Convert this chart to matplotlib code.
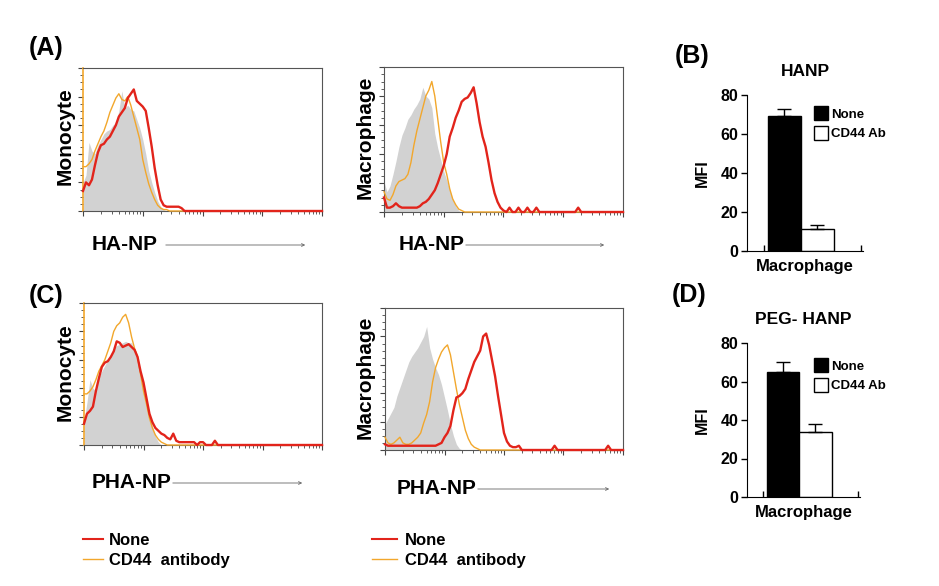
import numpy as np
import matplotlib.pyplot as plt
from matplotlib.lines import Line2D
from matplotlib.patches import Patch, FancyArrowPatch
from matplotlib.ticker import MultipleLocator, LogLocator, NullFormatter

plt.rcParams['font.family'] = ['Liberation Sans', 'DejaVu Sans']
plt.rcParams['font.weight'] = 'bold'
plt.rcParams['axes.labelweight'] = 'bold'
plt.rcParams['axes.titleweight'] = 'bold'

RED = '#e2241b'
ORANGE = '#f2a72c'
GREY = '#d2d2d2'

# histogram counts (% of max), one value every 0.05 decade starting at 10^0
amono_grey = [20, 25, 48, 42, 40, 46, 50, 54, 56, 57, 60, 62, 70, 84, 72, 74, 71, 70, 64, 58,
              50, 40, 28, 20, 13, 7, 3, 1]
amono_orange = [31, 31, 33, 36, 42, 47, 52, 56, 62, 69, 74, 79, 82, 78, 77, 80, 74, 66, 58, 50,
                36, 27, 19, 13, 8, 4, 2, 1, 1]
amono_red = [14, 20, 18, 22, 32, 41, 46, 47, 50, 52, 56, 60, 66, 69, 72, 79, 82, 85, 77, 75,
             73, 70, 58, 45, 30, 18, 8, 4, 3, 3, 3, 3, 3, 2]

amac_grey = [21, 14, 18, 26, 35, 45, 53, 58, 64, 67, 71, 74, 78, 86, 80, 78, 72, 54, 44, 36,
             28, 22, 15, 9, 4, 1]
amac_orange = [14, 9, 8, 12, 18, 21, 22, 23, 26, 34, 46, 56, 64, 72, 80, 84, 90, 80, 64, 48,
               34, 26, 16, 9, 5, 2, 1]
amac_red = [10, 3, 3, 4, 6, 4, 3, 3, 3, 3, 3, 3, 4, 6, 7, 9, 12, 15, 20, 26,
            32, 40, 52, 58, 65, 70, 76, 78, 79, 82, 86, 75, 62, 52, 45, 34, 22, 13, 7, 3,
            1, 0, 3, 0, 0, 3, 0, 0, 3, 0, 0, 3] + [0] * 13 + [3]

cmono_grey = [17, 30, 46, 40, 38, 48, 52, 56, 60, 64, 68, 70, 71, 72, 73, 72, 72, 66, 60, 50,
              40, 31, 20, 13, 6, 2]
cmono_orange = [36, 36, 38, 41, 46, 52, 56, 60, 66, 72, 80, 84, 86, 90, 92, 86, 76, 68, 62, 50,
                38, 29, 19, 12, 7, 4, 2, 1]
cmono_red = [15, 22, 24, 27, 38, 47, 55, 58, 59, 62, 66, 73, 72, 69, 70, 71, 69, 67, 62, 52,
             44, 33, 22, 16, 12, 10, 8, 7, 5, 4, 8, 3, 2, 2, 2, 2, 2, 2, 0, 2,
             2, 0, 0, 0, 3]

cmac_grey = [18, 22, 26, 30, 38, 44, 50, 56, 62, 66, 69, 72, 76, 80, 87, 72, 64, 58, 53, 46,
             37, 28, 18, 10, 4, 1]
cmac_orange = [9, 5, 4, 5, 7, 9, 5, 4, 4, 5, 7, 9, 12, 19, 25, 34, 48, 58, 64, 69,
               72, 74, 67, 55, 43, 32, 23, 14, 8, 4, 2, 1]
cmac_red = [4] + [3] * 17 + [4, 5, 9, 12, 17, 28, 37, 38, 40, 43, 50, 56, 62, 66, 70, 80, 82, 74,
                             63, 52, 38, 25, 12, 6, 3, 2, 2, 3] + [0] * 11 + [3] + [0] * 17 + [3]

# MFI bar data
groups = ['None', 'CD44 Ab']
hanp_mfi = [69, 11.5]
hanp_err = [4, 2]
peg_mfi = [65, 34]
peg_err = [5, 4]

NPTS = 81
channels = 10 ** np.linspace(0, 4, NPTS)


def full(v):
    return np.array(v + [0] * (NPTS - len(v)), dtype=float)


fig = plt.figure(figsize=(9.39, 5.86), dpi=100)
W, H = 939.0, 586.0


def px(x, y):
    return x / W, 1 - y / H


def hist_panel(l, t, r, b, grey, orange, red, mono):
    ax = fig.add_axes([l / W, 1 - b / H, (r - l) / W, (b - t) / H])
    ax.fill_between(channels, full(grey), color=GREY, lw=0, zorder=1)
    ax.plot(channels, full(orange), color=ORANGE, lw=1.0, zorder=3, clip_on=False)
    ax.plot(channels, full(red), color=RED, lw=1.7, zorder=4, clip_on=False)
    ax.set_xscale('log')
    ax.set_xlim(1, 1e4)
    ax.set_ylim(0, 100)
    ax.xaxis.set_major_locator(LogLocator(base=10, numticks=10))
    ax.xaxis.set_minor_locator(LogLocator(base=10, subs=np.arange(2, 10), numticks=50))
    ax.xaxis.set_major_formatter(NullFormatter())
    ax.xaxis.set_minor_formatter(NullFormatter())
    ax.yaxis.set_major_locator(MultipleLocator(20))
    ax.yaxis.set_minor_locator(MultipleLocator(5))
    ax.set_yticklabels([])
    ax.tick_params(which='major', length=3.5, width=0.8, color='#444444', direction='out')
    ax.tick_params(which='minor', length=2, width=0.6, color='#444444', direction='out')
    for s in ax.spines.values():
        s.set_color('#555555')
        s.set_linewidth(0.8)
    if mono:
        ax.spines['left'].set_color(ORANGE)
        ax.spines['left'].set_linewidth(1.2)
    return ax


hist_panel(83, 68, 322, 211, amono_grey, amono_orange, amono_red, True)
hist_panel(384, 67, 623, 212, amac_grey, amac_orange, amac_red, False)
hist_panel(84, 303, 322, 445, cmono_grey, cmono_orange, cmono_red, True)
hist_panel(385, 308, 623, 450, cmac_grey, cmac_orange, cmac_red, False)

# y labels of histograms
for (x, y, s) in [(65, 136, 'Monocyte'), (365, 137, 'Macrophage'),
                  (65, 372, 'Monocyte'), (365, 377, 'Macrophage')]:
    fig.text(*px(x, y), s, rotation=90, ha='center', va='center', fontsize=15)

# x labels with arrows
for (x, y, s, x1, x2) in [(92, 244, 'HA-NP', 163, 308), (399, 244, 'HA-NP', 463, 607),
                          (92, 482, 'PHA-NP', 170, 305), (397, 488, 'PHA-NP', 475, 612)]:
    fig.text(*px(x, y), s, ha='left', va='center', fontsize=15)
    fig.add_artist(FancyArrowPatch(px(x1, y + 1), px(x2, y + 1), transform=fig.transFigure,
                                   arrowstyle='->', mutation_scale=5, lw=0.6, color='#666666'))

# panel letters
fig.text(*px(63, 48), '(A)', ha='right', va='center', fontsize=18)
fig.text(*px(63, 296), '(C)', ha='right', va='center', fontsize=18)
fig.text(*px(675, 56), '(B)', ha='left', va='center', fontsize=18)
fig.text(*px(672, 295), '(D)', ha='left', va='center', fontsize=18)

# bottom legends
leg_handles = [Line2D([], [], color=RED, lw=1.5), Line2D([], [], color=ORANGE, lw=1.0)]
leg_labels = ['None', 'CD44  antibody']
for x, hl, tp in [(83, 1.2, 0.35), (372, 1.5, 0.5)]:
    fig.legend(leg_handles, leg_labels, loc='upper left', bbox_to_anchor=px(x, 533),
               frameon=False, fontsize=12, handlelength=hl, handletextpad=tp,
               labelspacing=0.3, borderpad=0, borderaxespad=0)


def bar_panel(l, r, t, b, means, errs, title, leg_top):
    ax = fig.add_axes([l / W, 1 - b / H, (r - l) / W, (b - t) / H])
    ax.bar(range(len(groups)), means, width=1.0, color=['black', 'white'],
           edgecolor='black', linewidth=1.0)
    ax.errorbar(range(len(groups)), means, yerr=[[0] * len(errs), errs], fmt='none',
                ecolor='black', elinewidth=1.0, capsize=5, capthick=1.0)
    ax.set_xlim(-1.12, 2.38)
    ax.set_ylim(0, 80)
    ax.set_yticks([0, 20, 40, 60, 80])
    ax.set_xticks([-0.62, 2.33])
    ax.set_xticklabels([])
    ax.tick_params(axis='x', direction='in', length=4, width=1)
    ax.tick_params(axis='y', direction='out', length=4, width=1, labelsize=11.5, pad=2)
    ax.spines['top'].set_visible(False)
    ax.spines['right'].set_visible(False)
    ax.set_ylabel('MFI', fontsize=11.5, labelpad=8)
    ax.set_xlabel('Macrophage', fontsize=12, labelpad=2)
    ax.set_title(title, fontsize=12.5, pad=14)
    handles = [Patch(facecolor='black', edgecolor='black'),
               Patch(facecolor='white', edgecolor='black')]
    ax.legend(handles, groups, loc='upper left', bbox_to_anchor=px(814, leg_top),
              bbox_transform=fig.transFigure, frameon=False, fontsize=9.5,
              handlelength=1.05, handleheight=1.3, handletextpad=0.25, labelspacing=0.38,
              borderpad=0, borderaxespad=0)
    return ax


bar_panel(747, 863, 95, 251, hanp_mfi, hanp_err, 'HANP', 106)
bar_panel(747, 860, 343, 497, peg_mfi, peg_err, 'PEG- HANP', 358)

fig.savefig('out.png', dpi=100)
